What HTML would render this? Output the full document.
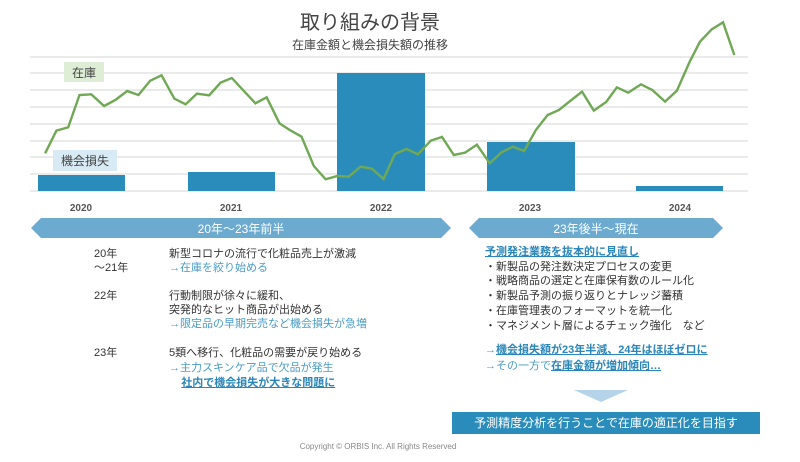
<!DOCTYPE html>
<html><head><meta charset="utf-8"><style>
*{margin:0;padding:0}
body{width:800px;height:462px;background:#fff;position:relative;overflow:hidden;font-family:"Liberation Sans","Noto Sans CJK JP",sans-serif;color:#333}
.a{position:absolute;white-space:nowrap}
.t{font-size:11px;line-height:14px}
.b{color:#4a9cc4}
.u{color:#2a86b8;text-decoration:underline;font-weight:bold}
</style></head><body>
<div class="a" style="left:0;width:740px;top:6px;text-align:center;font-size:20px;color:#444">取り組みの背景</div>
<div class="a" style="left:0;width:740px;top:36px;text-align:center;font-size:12px;color:#444">在庫金額と機会損失額の推移</div>
<svg class="a" style="left:0;top:0" width="800" height="215">
<g stroke="#e4e4e4" stroke-width="1.5">
<line x1="30" x2="748" y1="57" y2="57"/><line x1="30" x2="748" y1="73" y2="73"/><line x1="30" x2="748" y1="90" y2="90"/><line x1="30" x2="748" y1="107" y2="107"/><line x1="30" x2="748" y1="124" y2="124"/><line x1="30" x2="748" y1="141" y2="141"/><line x1="30" x2="748" y1="157" y2="157"/><line x1="30" x2="748" y1="174" y2="174"/><line x1="30" x2="748" y1="191" y2="191"/>
</g>
<g fill="#2a8cba">
<rect x="38" y="175" width="87" height="16"/><rect x="188" y="172" width="87" height="19"/><rect x="337" y="73" width="88" height="118"/><rect x="487" y="142" width="88" height="49"/><rect x="636" y="186" width="87" height="5"/>
</g>
<rect x="64" y="62" width="40" height="20" fill="#deedd6"/>
<text x="84" y="77" font-size="12" text-anchor="middle" fill="#444">在庫</text>
<rect x="53" y="150" width="64" height="21" fill="#d8eaf3"/>
<text x="85" y="165" font-size="12" text-anchor="middle" fill="#444">機会損失</text>
<g transform="scale(0.5128,0.3333)">
<polyline fill="none" stroke="#70a855" stroke-width="2.4" vector-effect="non-scaling-stroke" points="88,460 110,392 133,382 155,285 178,283 203,318 225,300 248,273 270,285 293,242 315,226 340,296 362,313 384,281 408,286 430,248 452,234 498,310 520,292 545,370 565,390 588,410 612,498 635,538 658,528 680,530 703,500 725,506 748,537 770,462 793,447 815,463 840,422 862,411 885,465 907,458 930,434 955,490 977,458 1000,440 1022,453 1045,390 1068,345 1090,330 1112,303 1135,275 1158,332 1182,306 1203,262 1225,278 1250,253 1272,270 1297,305 1320,272 1345,185 1365,125 1388,88 1410,67 1432,165"/>
</g>
<g font-size="10" fill="#555" text-anchor="middle" font-weight="bold">
<text x="81" y="211">2020</text><text x="231" y="211">2021</text><text x="381" y="211">2022</text><text x="530" y="211">2023</text><text x="680" y="211">2024</text>
</g>
</svg>
<svg class="a" style="left:0;top:215px" width="800" height="30">
<polygon points="31,13 41,3 441,3 451,13 441,23 41,23" fill="#6daad0"/>
<polygon points="469,13 479,3 713,3 723,13 713,23 479,23" fill="#6daad0"/>
<text x="241" y="18" font-size="12" fill="#fff" text-anchor="middle">20年～23年前半</text>
<text x="596" y="18" font-size="12" fill="#fff" text-anchor="middle">23年後半～現在</text>
</svg>
<div class="a t" style="left:94px;top:247px">20年<br>～21年</div>
<div class="a t" style="left:169px;top:247px">新型コロナの流行で化粧品売上が激減<br><span class="b">→在庫を絞り始める</span></div>
<div class="a t" style="left:94px;top:289px">22年</div>
<div class="a t" style="left:169px;top:289px">行動制限が徐々に緩和、<br>突発的なヒット商品が出始める<br><span class="b">→限定品の早期完売など機会損失が急増</span></div>
<div class="a t" style="left:94px;top:346px">23年</div>
<div class="a t" style="left:169px;top:346px;line-height:15px">5類へ移行、化粧品の需要が戻り始める<br><span class="b">→主力スキンケア品で欠品が発生</span><br>&nbsp;&nbsp;&nbsp;&nbsp;<span class="u">社内で機会損失が大きな問題に</span></div>
<div class="a t" style="left:485px;top:245px;line-height:14.7px"><span class="u">予測発注業務を抜本的に見直し</span><br>・新製品の発注数決定プロセスの変更<br>・戦略商品の選定と在庫保有数のルール化<br>・新製品予測の振り返りとナレッジ蓄積<br>・在庫管理表のフォーマットを統一化<br>・マネジメント層によるチェック強化　など</div>
<div class="a t" style="left:485px;top:342px;line-height:16px"><span class="b">→</span><span class="u">機会損失額が23年半減、24年はほぼゼロに</span><br><span class="b">→その一方で</span><span class="u">在庫金額が増加傾向…</span></div>
<svg class="a" style="left:574px;top:390px" width="54" height="13"><polygon points="0,0 54,0 27,12" fill="#b5d4ea"/></svg>
<div class="a" style="left:452px;top:412px;width:308px;height:22px;background:#2a8cba;color:#fff;font-size:12px;line-height:22px;text-align:center">予測精度分析を行うことで在庫の適正化を目指す</div>
<div class="a" style="left:0;width:756px;top:442px;text-align:center;font-size:8px;color:#888">Copyright © ORBIS Inc. All Rights Reserved</div>
</body></html>
